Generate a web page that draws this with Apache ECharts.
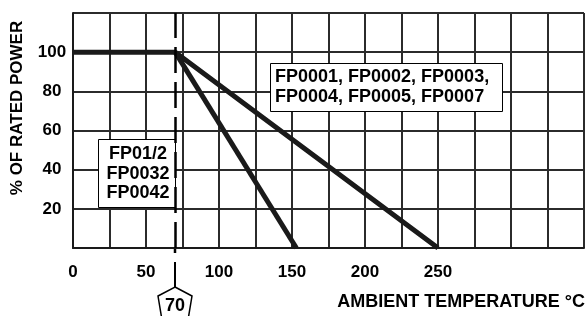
<!DOCTYPE html>
<html>
<head>
<meta charset="utf-8">
<script src="https://cdn.jsdelivr.net/npm/echarts@6/dist/echarts.min.js"></script>
<style>
  html, body { margin: 0; padding: 0; background: #fff; }
  #main { width: 587px; height: 316px; }
</style>
</head>
<body>
<div id="main"></div>
<script>
// 数据
var wideCurve = [[0, 100], [70, 100], [250, 0]];
var narrowCurve = [[70, 100], [153, 0]];
var kneeTemp = 70;
var xTickLabels = [0, 50, 100, 150, 200, 250];
var yTickLabels = [20, 40, 60, 80, 100];
var wideModels = ['FP0001, FP0002, FP0003,', 'FP0004, FP0005, FP0007'];
var narrowModels = ['FP01/2', 'FP0032', 'FP0042'];

var FONT = '"Liberation Sans", Arial, Helvetica, sans-serif';
var INK = '#1a1a1a';

var chart = echarts.init(document.getElementById('main'), null, {renderer: 'canvas'});

var option = {
  animation: false,
  backgroundColor: '#fff',
  grid: {
    left: 73,
    right: 2,
    top: 13,
    bottom: 68
  },
  xAxis: {
    type: 'value',
    min: 0,
    max: 350,
    interval: 25,
    axisLine: {show: true, onZero: false, lineStyle: {color: INK, width: 2}},
    axisTick: {show: false},
    splitLine: {show: true, lineStyle: {color: '#2b2b2b', width: 2}},
    axisLabel: {
      margin: 16,
      color: '#000',
      fontFamily: FONT,
      fontWeight: 'bold',
      fontSize: 17,
      formatter: function (v) {
        return xTickLabels.indexOf(v) > -1 ? String(v) : '';
      }
    }
  },
  yAxis: {
    type: 'value',
    min: 0,
    max: 120,
    interval: 20,
    axisLine: {show: true, lineStyle: {color: INK, width: 2}},
    axisTick: {show: false},
    splitLine: {show: true, lineStyle: {color: '#2b2b2b', width: 2}},
    axisLabel: {
      margin: 21,
      align: 'center',
      color: '#000',
      fontFamily: FONT,
      fontWeight: 'bold',
      fontSize: 17,
      formatter: function (v) {
        return yTickLabels.indexOf(v) > -1 ? String(v) : '';
      }
    }
  },
  series: [
    {
      type: 'line',
      data: wideCurve,
      showSymbol: false,
      symbol: 'none',
      lineStyle: {color: INK, width: 5},
      z: 3,
      markLine: {
        silent: true,
        symbol: 'none',
        label: {show: false},
        lineStyle: {color: '#000', width: 2.5, type: [26, 9]},
        data: [{xAxis: kneeTemp}]
      }
    },
    {
      type: 'line',
      data: narrowCurve,
      showSymbol: false,
      symbol: 'none',
      lineStyle: {color: INK, width: 5},
      z: 3
    }
  ]
};
chart.setOption(option);

// 标注：70 度标记、型号框、坐标轴标题
var base = chart.convertToPixel({gridIndex: 0}, [kneeTemp, 0]);
var mx = Math.round(base[0]);
var my = base[1];

chart.setOption({
  graphic: [
    {
      type: 'line',
      shape: {x1: mx, y1: my, x2: mx, y2: my + 5},
      style: {stroke: '#000', lineWidth: 2.5}
    },
    {
      type: 'line',
      shape: {x1: mx, y1: my + 14, x2: mx, y2: my + 39},
      style: {stroke: '#000', lineWidth: 2}
    },
    {
      type: 'polygon',
      shape: {
        points: [[mx, my + 39], [mx + 17, my + 48], [mx + 13, my + 72], [mx - 13, my + 72], [mx - 17, my + 48]]
      },
      style: {fill: '#fff', stroke: '#000', lineWidth: 1.5}
    },
    {
      type: 'text',
      x: mx,
      y: my + 58,
      style: {
        text: String(kneeTemp),
        fill: '#000',
        font: 'bold 18px ' + FONT,
        align: 'center',
        verticalAlign: 'middle'
      }
    },
    {
      type: 'rect',
      shape: {x: 98.5, y: 139.5, width: 77, height: 68},
      style: {fill: '#fff', stroke: '#000', lineWidth: 1}
    },
    {
      type: 'text',
      x: 138,
      y: 174,
      style: {
        text: narrowModels.join('\n'),
        fill: '#000',
        font: 'bold 18px ' + FONT,
        lineHeight: 19.5,
        align: 'center',
        verticalAlign: 'middle'
      }
    },
    {
      type: 'rect',
      shape: {x: 270.5, y: 63.5, width: 232, height: 48},
      style: {fill: '#fff', stroke: '#000', lineWidth: 1}
    },
    {
      type: 'text',
      x: 275,
      y: 87.5,
      style: {
        text: wideModels.join('\n'),
        fill: '#000',
        font: 'bold 18px ' + FONT,
        lineHeight: 20,
        align: 'left',
        verticalAlign: 'middle'
      }
    },
    {
      type: 'text',
      x: 17,
      y: 108,
      rotation: Math.PI / 2,
      style: {
        text: '% OF RATED POWER',
        fill: '#000',
        font: 'bold 17px ' + FONT,
        align: 'center',
        verticalAlign: 'middle'
      }
    },
    {
      type: 'text',
      x: 585,
      y: 302,
      style: {
        text: 'AMBIENT TEMPERATURE °C',
        fill: '#000',
        font: 'bold 18px ' + FONT,
        align: 'right',
        verticalAlign: 'middle'
      }
    }
  ]
});
</script>
</body>
</html>
